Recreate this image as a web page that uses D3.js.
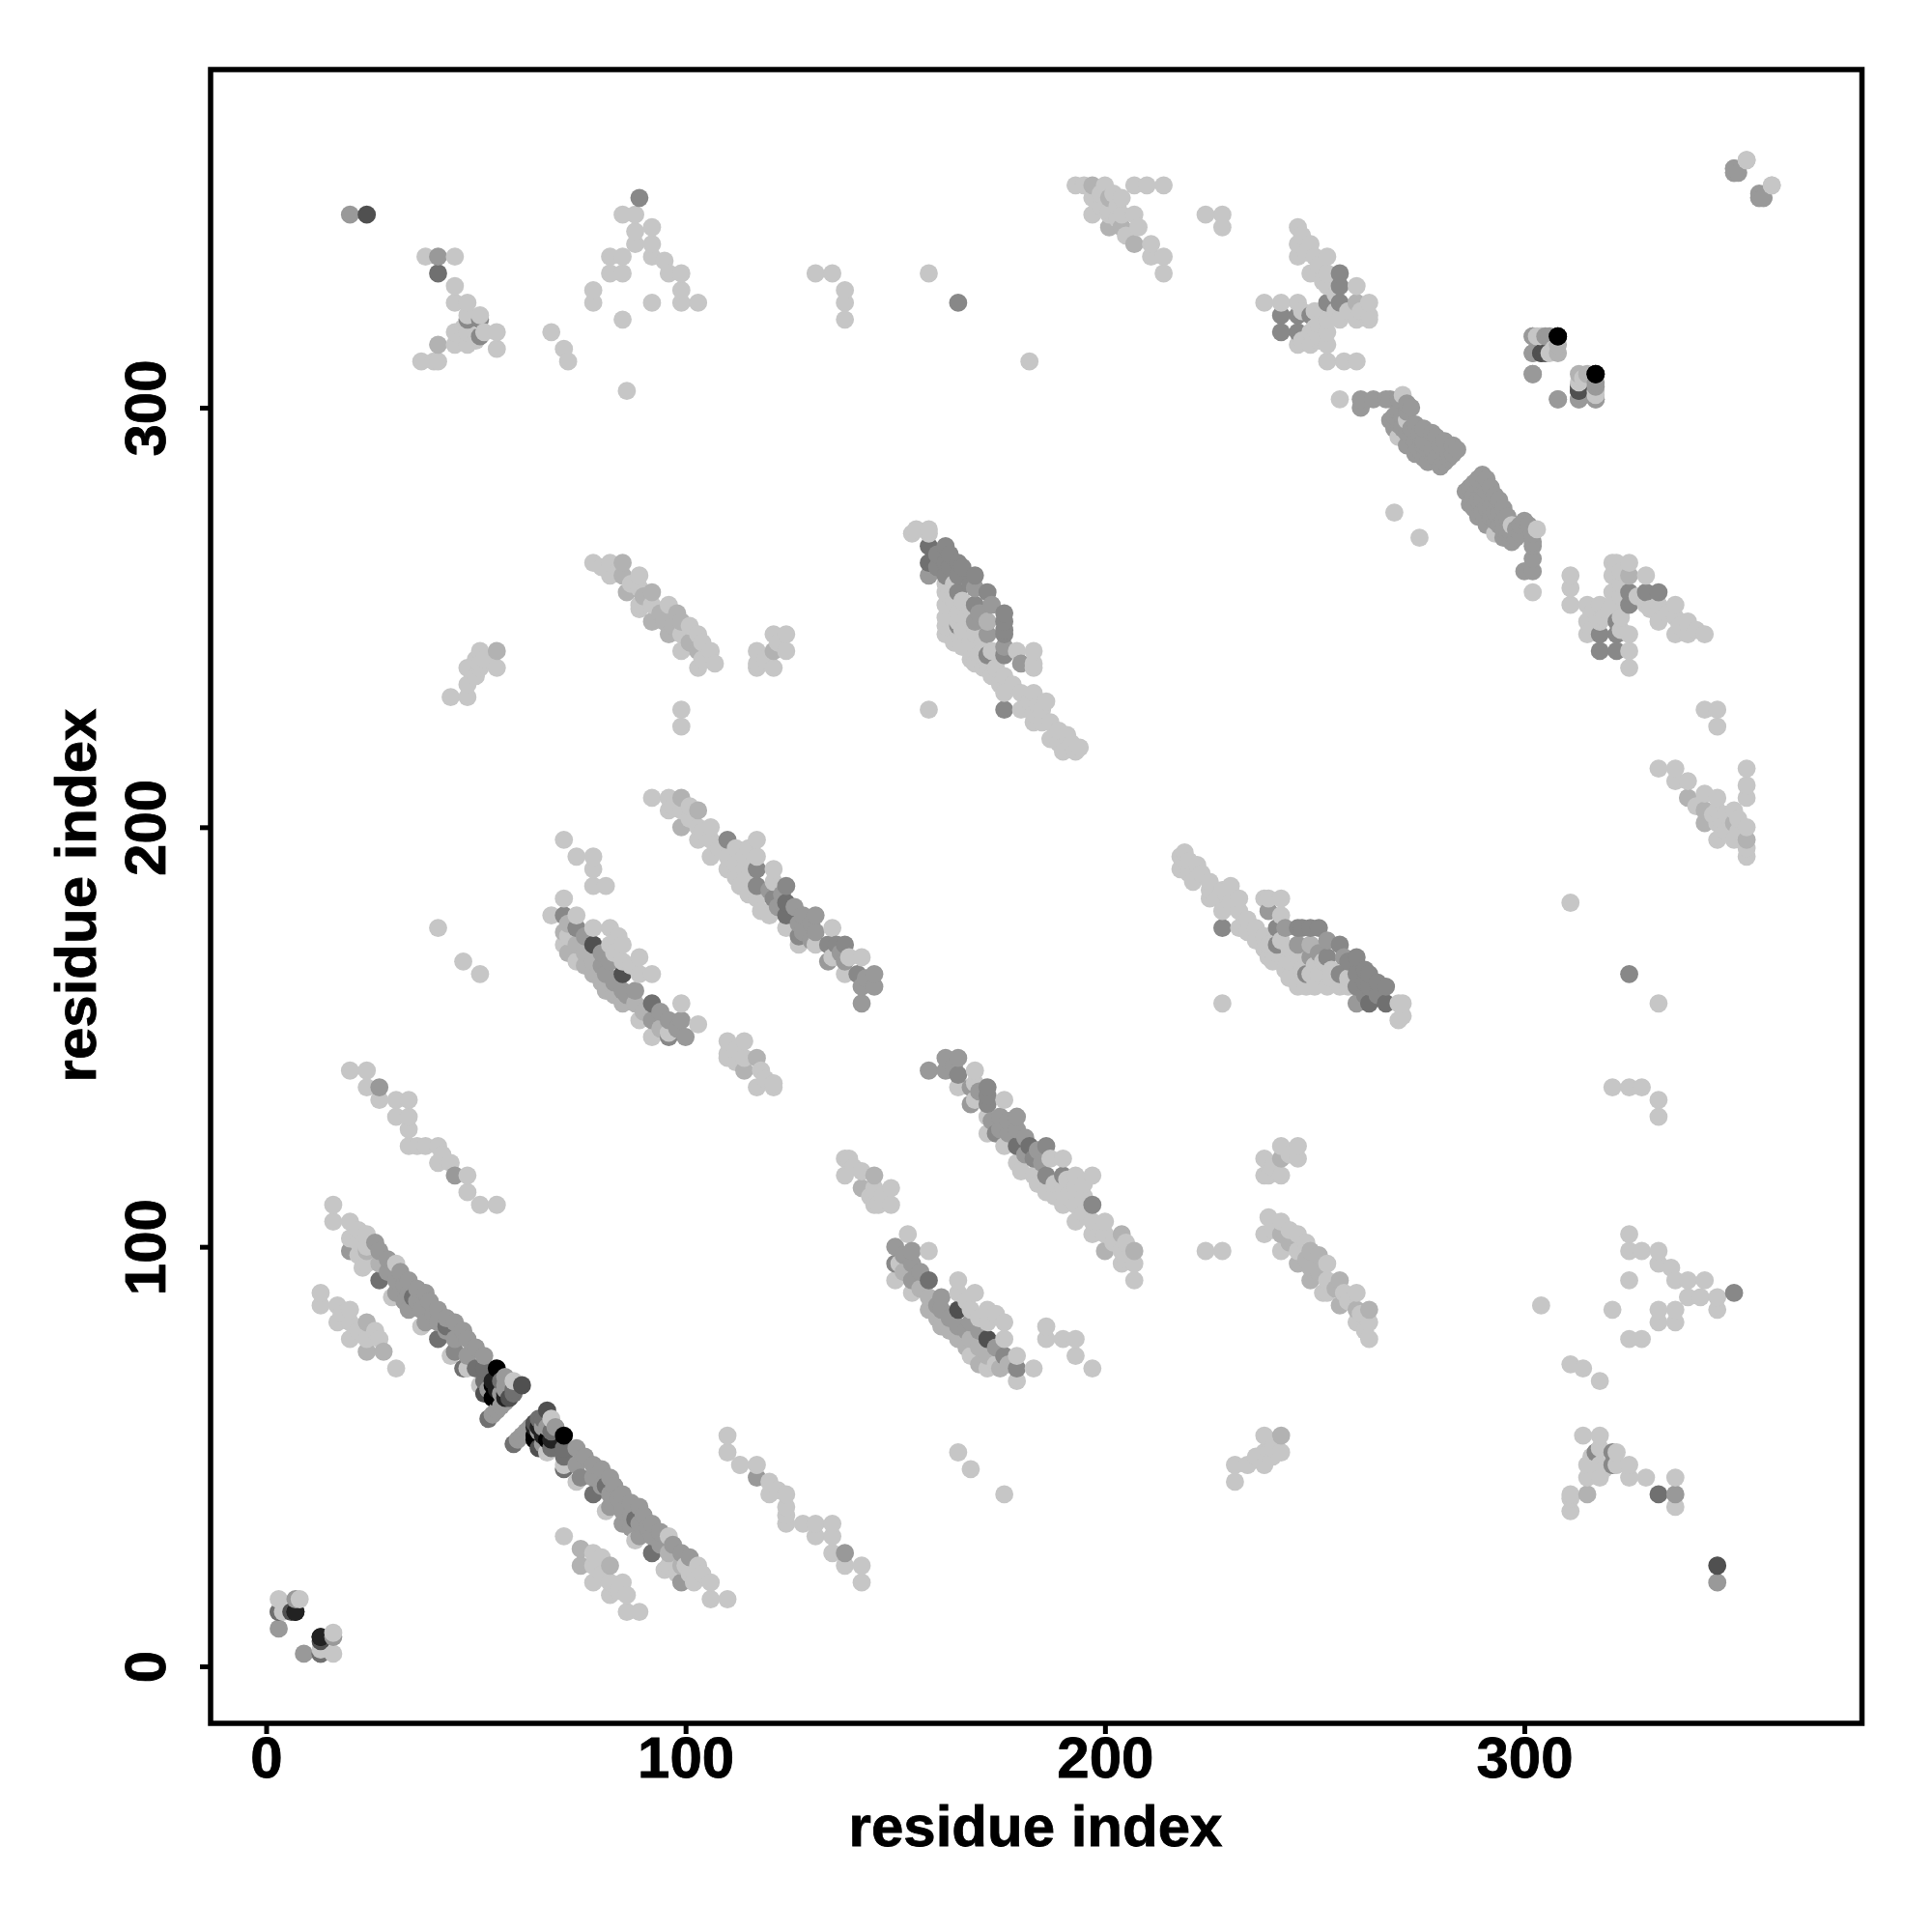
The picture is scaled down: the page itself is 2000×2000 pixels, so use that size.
<!DOCTYPE html>
<html><head><meta charset="utf-8">
<style>html,body{margin:0;padding:0;background:#fff}svg{display:block}text{font-family:"Liberation Sans",Arial,sans-serif;font-weight:bold;fill:#000;stroke:#000;stroke-width:0.8}</style>
<script src="https://cdn.jsdelivr.net/npm/d3@7"></script>
</head><body><svg id="c" width="2000" height="2000"></svg>
<script>
const xTicks=[0,100,200,300], yTicks=[0,100,200,300];
const axisLabel="residue index";
// contacts (residue i > residue j), one list per grey level; the map is symmetric
const shadeC6=[[16,3],[16,8],[13,4],[68,59],[67,51],[71,48],[74,44],[81,37],[88,30],[95,23],[96,31],[96,24],[100,24],[103,24],[102,20],[106,20],[106,16],[110,16],[98,22],[101,22],[104,22],
[71,31],[78,27],[78,24],[78,20],[82,20],[85,20],[82,17],[86,17],[86,13],[89,13],[80,26],[80,22],[84,18],
[110,55],[110,51],[113,48],[117,48],[120,44],[120,41],[124,41],[124,38],[124,34],[128,34],[131,34],[135,34],[131,31],[135,31],[135,27],[138,24],[142,24],[142,20],[122,42],[124,36],
[165,51],[168,47],[176,41],[231,48],[234,48],[231,44],[238,55],[238,51],[242,51],[238,48],[240,52],[240,50],[236,50],[239,51],
[138,121],[139,121],[138,117],[142,118],[145,114],[149,114],[145,110],[146,110],[149,110],[140,119],[144,112],[147,112],
[169,142],[165,138],[169,139],[176,135],[169,135],[172,131],[172,127],[176,124],[179,120],[187,121],[190,121],[183,117],[193,117],[197,117],[186,113],[190,114],[193,114],[190,110],[193,110],[193,106],[197,106],[200,106],[197,103],[200,103],[204,99],[204,96],[207,96],[207,92],
[180,118],[184,115],[188,112],[191,112],[195,108],[195,112],[199,104],[202,101],[205,97],[205,101],[188,115],[191,116],[195,115],
[153,103],[158,99],[151,96],[150,92],[154,89],[165,92],[165,89],[169,89],[168,85],[172,85],[172,82],[176,82],[176,78],[168,74],[179,74],[172,71],[183,71],[179,68],[167,87],[170,83],[174,84],[174,72],
[186,81],[186,78],[190,78],[193,78],[193,74],[197,71],[224,99],[228,99],
[219,194],[218,193],[222,191],[218,190],[221,187],[225,187],[225,183],[229,184],[232,183],[228,180],[232,180],[232,176],[236,176],[236,173],[238,183],[239,183],[242,183],[242,179],[239,169],[242,173],[243,166],[246,169],[246,162],[250,162],[253,162],[256,162],[270,158],[271,158],[271,155],[270,154],[228,158],
[238,171],[240,168],[238,174],[241,170],[244,168],[244,171],[244,164],[247,166],[249,165],[251,165],[252,168],[254,166],[258,164],[254,164],[248,162],[258,162],[225,185],[228,185],[230,182],[227,183],[230,186],[223,189],[220,192],[220,189],[234,175],[234,178],[246,165],[250,167],[239,172],
[311,182],[321,138],[325,138],[328,138],[332,135],[332,131],[332,158],
[242,124],[246,124],[246,121],[238,121],[238,117],[242,117],[239,117],[240,119],[244,122],
[239,107],[242,106],[238,103],[246,103],[242,99],[246,99],[253,96],[253,92],[253,89],[257,89],[260,89],[252,89],[260,82],[263,82],[263,78],[240,104],[244,104],[248,101],[258,87],[261,84],[262,80],
[325,103],[325,99],[328,99],[332,99],[332,96],[335,95],[336,92],[339,92],[343,92],[325,92],[339,88],[342,88],[346,88],[346,85],[304,86],[321,85],[332,85],[336,85],[332,82],[336,82],[325,78],[328,78],
[311,72],[314,71],[318,68],[314,55],[318,55],[318,52],[322,51],[322,48],[315,48],[318,48],[325,48],[325,45],[329,45],[315,45],[318,45],[311,41],[311,40],[311,37],[336,45],[336,38],[317,47],[319,47],[316,50],
[302,256],[311,260],[311,257],[311,253],[315,253],[318,253],[321,253],[321,263],[322,263],[325,263],[321,260],[329,260],[321,256],[329,253],[332,253],[336,253],[332,249],[336,250],[339,249],[336,246],[339,246],[343,246],[315,249],[318,249],[315,246],[325,246],[325,242],[325,238],[317,251],[319,250],[316,247],[320,251],[323,250],[323,247],[323,258],[323,255],[327,255],[330,252],[334,251],[337,248],[341,247],[323,261],[316,251],
[343,228],[346,228],[346,224],[332,214],[336,214],[336,211],[339,211],[343,208],[346,207],[346,204],[350,204],[353,214],[353,210],[353,207],[346,197],[350,197],[353,200],[347,201],[353,193],[353,195],[346,201],[348,199],[348,203],[345,203],[351,199],[351,202],[341,205],
[353,359],[359,353],[304,317],[307,314],[313,306],[317,303],[275,269],[293,270],[297,272],[303,271]];
const shadeB2=[[75,28],[75,24],[82,24],[96,27],[99,24],[142,114],[145,117],[158,88],[158,85],[161,81],[165,78],[168,78],[172,74],[175,71],[242,55],[242,121],[242,103],[246,96],[249,99],[249,95],[249,92],[256,92],[249,172],[204,103],[200,99],[207,99],[315,41],[325,260],[339,207],[343,204],[343,201],[350,201],[353,197],[308,315],[313,308],[260,85],[263,85],[256,86],
[152,94],[156,90],[160,83],[163,80],[167,76],[170,76],[170,72],[177,72],[251,94],[251,98],[255,90],[244,101],[248,97]];
const shade99=[[60,54],[61,55],[62,56],[63,57],[74,52],[74,48],[78,48],[78,45],[82,45],[82,41],[85,41],[82,38],[85,37],[89,38],[85,34],[89,34],[92,34],[89,31],[92,31],[99,27],[99,20],[16,7],[9,3],[66,57],[65,56],[66,53],
[76,50],[80,47],[80,43],[83,43],[84,40],[87,39],[87,36],[87,33],[90,36],[91,33],[94,32],[94,29],[97,29],[101,26],[67,57],[69,57],
[239,180],[243,176],[246,172],[253,173],[249,169],[257,169],[260,158],[158,142],[162,145],[165,145],[162,142],[168,138],[168,134],[175,131],[179,131],[175,128],[179,128],[150,100],[154,99],[154,96],[154,92],[161,88],[161,85],[165,81],[168,82],[176,74],
[164,143],[170,137],[173,130],[177,130],[177,127],[181,126],[181,122],[184,123],[185,120],[152,98],[156,94],[160,86],[163,83],[167,80],[170,80],[174,76],[251,170],
[336,41],[302,317],[306,317],[302,313],[302,308],[308,302],[313,302],[317,305],[317,302],[350,357],[350,356],[356,351],[356,350],[357,350],
[290,284],[286,280],[287,277],[290,275],[293,279],[294,275],[291,272],[295,273],[291,280],[289,282],[295,269],[297,268],[300,273],[302,270],[302,268],[302,267],[302,264],[302,261],[300,261],[346,20],[117,45],[138,27],
[287,281],[288,282],[289,283],[288,279],[289,278],[290,278],[292,276],[293,275],[292,274],[293,273],[294,272],[296,271],[295,271],[296,270],[298,269],[298,271],[299,272],[291,283],[292,281],[294,278],[295,276],[296,274],[288,276],[291,276],[289,274],[297,270],[299,270],[301,272]];
const shade88=[[75,45],[165,141],[172,138],[172,136],[172,134],[174,127],[186,124],[183,121],[186,117],[190,117],[150,96],[179,71],[176,74],[197,110],[228,176],[241,176],[246,176],[249,176],[253,169],[256,172],[241,172],[248,165],[260,169],[256,165],[260,165],[263,165],[260,162],[263,162],[267,162],[325,165],[325,256],[325,253],[329,256],[332,256],[322,249],[322,246],[318,246],[318,242],[322,242],[350,89],
[247,176],[251,176],[258,168],[262,166],[262,163],[265,163],[262,160],[265,160],[321,51],[321,48],[317,51]];
const shade70=[[13,3],[59,53],[71,47],[78,41],[71,52],[68,52],[68,56],[92,27],[3,13],[179,124],[182,124],[158,92],[263,158],[267,158],[332,41],[313,304],[66,59],[65,59],[71,50],[81,43],[88,35]];
const shade50=[[13,6],[67,61],[64,58],[172,78],[165,85],[346,24],[304,313],[305,313],[65,52]];
const shade22=[[7,13],[13,7],[64,57],[68,54],[66,55],[65,57]];
const shade00=[[64,55],[71,55],[64,54],[67,54],[308,317],[317,308]];

const seriesList=[["#c6c6c6",shadeC6],["#b2b2b2",shadeB2],["#999999",shade99],["#888888",shade88],["#707070",shade70],["#505050",shade50],["#222222",shade22],["#000000",shade00]];
const contacts=seriesList.flatMap(([c,pts])=>pts.flatMap(([i,j])=>[{x:i,y:j,c},{x:j,y:i,c}]))
  .sort((a,b)=>d3.ascending(a.x,b.x)||d3.ascending(a.y,b.y));

const svg=d3.select("#c");
const x=d3.scaleLinear().domain([0,300]).range([275.5,1578]);
const y=d3.scaleLinear().domain([0,300]).range([1725,422]);
const L=218,R=1927.5,T=72,B=1784;

svg.append("g").selectAll("circle").data(contacts).join("circle")
  .attr("cx",d=>x(d.x)).attr("cy",d=>y(d.y)).attr("r",9.4).attr("fill",d=>d.c);

svg.append("rect").attr("x",L).attr("y",T).attr("width",R-L).attr("height",B-T)
  .attr("fill","none").attr("stroke","#000").attr("stroke-width",5.5);

const gx=svg.append("g").attr("transform",`translate(0,${B})`)
  .call(d3.axisBottom(x).tickValues(xTicks).tickSize(11).tickSizeOuter(0).tickFormat(d3.format("d")));
gx.select(".domain").remove();
gx.selectAll("line").attr("stroke","#000").attr("stroke-width",5);
gx.selectAll("text").attr("y",56).attr("dy",null).attr("font-size",60).attr("text-anchor","middle").style("fill","#000");

const gy=svg.append("g").attr("transform",`translate(${L},0)`)
  .call(d3.axisLeft(y).tickValues(yTicks).tickSize(11).tickSizeOuter(0).tickFormat(d3.format("d")));
gy.select(".domain").remove();
gy.selectAll("line").attr("stroke","#000").attr("stroke-width",5);
gy.selectAll("text").attr("x",null).attr("y",null).attr("dy",null).attr("font-size",60)
  .attr("text-anchor","middle").attr("transform",`translate(-47,0) rotate(-90)`).style("fill","#000");

svg.append("text").attr("x",1072).attr("y",1911).attr("text-anchor","middle").attr("font-size",60).text(axisLabel);
svg.append("text").attr("transform","translate(99,927) rotate(-90)").attr("text-anchor","middle").attr("font-size",60).text(axisLabel);
</script></body></html>
